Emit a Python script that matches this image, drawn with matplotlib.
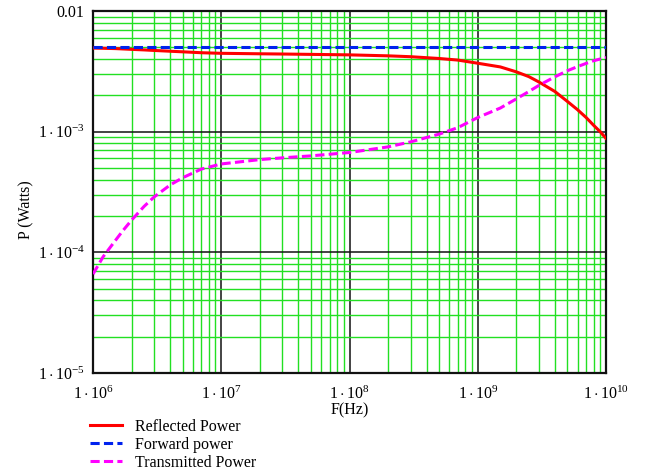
#!/usr/bin/env python3
"""Reflected / forward / transmitted power vs frequency (log-log)."""

import matplotlib
matplotlib.use('Agg')
import matplotlib.pyplot as plt
from matplotlib.ticker import FixedLocator, FixedFormatter, LogLocator, NullFormatter

plt.rcParams['font.family'] = ['Liberation Serif', 'DejaVu Serif']
plt.rcParams['mathtext.fontset'] = 'custom'
plt.rcParams['mathtext.rm'] = 'Liberation Serif'
plt.rcParams['mathtext.it'] = 'Liberation Serif:italic'

# values
freq = [1e6, 1.2e6, 1.5e6, 1.7e6, 2e6, 2.5e6, 3e6, 4e6, 5e6, 7e6, 1e7, 2e7, 3e7, 5e7,
        1e8, 2e8, 3e8, 5e8, 7e8, 1e9, 1.5e9, 2e9, 2.5e9, 3e9, 4e9, 5e9, 6e9, 7e9,
        8e9, 9e9, 1e10]
reflected = [4.93e-3, 4.91e-3, 4.88e-3, 4.85e-3, 4.81e-3, 4.76e-3, 4.71e-3, 4.64e-3,
             4.59e-3, 4.51e-3, 4.46e-3, 4.42e-3, 4.40e-3, 4.37e-3, 4.33e-3, 4.25e-3,
             4.18e-3, 4.04e-3, 3.92e-3, 3.69e-3, 3.44e-3, 3.13e-3, 2.86e-3, 2.58e-3,
             2.15e-3, 1.78e-3, 1.52e-3, 1.31e-3, 1.13e-3, 1.0e-3, 8.8e-4]
forward = [5.0e-3] * len(freq)
transmitted = [6.6e-5, 9.2e-5, 1.26e-4, 1.5e-4, 1.85e-4, 2.4e-4, 2.88e-4, 3.62e-4,
               4.15e-4, 4.9e-4, 5.4e-4, 5.87e-4, 6.07e-4, 6.3e-4, 6.72e-4, 7.48e-4,
               8.23e-4, 9.54e-4, 1.08e-3, 1.31e-3, 1.57e-3, 1.87e-3, 2.15e-3, 2.42e-3,
               2.85e-3, 3.2e-3, 3.46e-3, 3.68e-3, 3.87e-3, 4.0e-3, 4.12e-3]

xticks = [1e6, 1e7, 1e8, 1e9, 1e10]
xticklabels = [r'$1\cdot10^{6}$', r'$1\cdot10^{7}$', r'$1\cdot10^{8}$',
               r'$1\cdot10^{9}$', r'$1\cdot10^{10}$']
yticks = [1e-5, 1e-4, 1e-3, 1e-2]
yticklabels = [r'$1\cdot10^{-5}$', r'$1\cdot10^{-4}$', r'$1\cdot10^{-3}$', '0.01']

fig = plt.figure(figsize=(6.48, 4.70), dpi=100)
ax = fig.add_axes([93 / 648, 1 - 373 / 470, 513 / 648, 362 / 470])

ax.plot(freq, reflected, color='#ff0000', lw=2.2, label='Reflected Power', zorder=5)
ax.plot(freq, forward, color='#0022ee', lw=2.2, ls=(0, (3, 1.4)), label='Forward power', zorder=5)
ax.plot(freq, transmitted, color='#ff00ff', lw=2.2, ls=(0, (3, 1.4)), label='Transmitted Power', zorder=5)

ax.set_xscale('log')
ax.set_yscale('log')
ax.set_xlim(1e6, 1e10)
ax.set_ylim(1e-5, 1e-2)

ax.xaxis.set_major_locator(FixedLocator(xticks))
ax.xaxis.set_major_formatter(FixedFormatter(xticklabels))
ax.yaxis.set_major_locator(FixedLocator(yticks))
ax.yaxis.set_major_formatter(FixedFormatter(yticklabels))
ax.xaxis.set_minor_locator(LogLocator(base=10, subs=range(2, 10), numticks=20))
ax.yaxis.set_minor_locator(LogLocator(base=10, subs=range(2, 10), numticks=20))
ax.xaxis.set_minor_formatter(NullFormatter())
ax.yaxis.set_minor_formatter(NullFormatter())

ax.grid(True, which='minor', color='#22e022', lw=1.0)
ax.grid(True, which='major', color='#111111', lw=1.1)
ax.set_axisbelow(True)

ax.tick_params(which='both', length=0, labelsize=11.5)
ax.tick_params(axis='x', pad=9)
ax.tick_params(axis='y', pad=6)
for s in ax.spines.values():
    s.set_linewidth(1.6)
    s.set_color('#111111')

ax.set_xlabel('F(Hz)', fontsize=11.5)
ax.xaxis.set_label_coords(0.5, -0.08)
ax.set_ylabel('P (Watts)', fontsize=11.5)
ax.yaxis.set_label_coords(-0.115, 0.45)

fig.legend(loc='upper left', bbox_to_anchor=(90 / 648, 1 - 419 / 470), frameon=False,
           fontsize=11.5, handlelength=2.0, handletextpad=0.8, labelspacing=0.12,
           borderpad=0, borderaxespad=0)

fig.savefig('out.png', dpi=100)
